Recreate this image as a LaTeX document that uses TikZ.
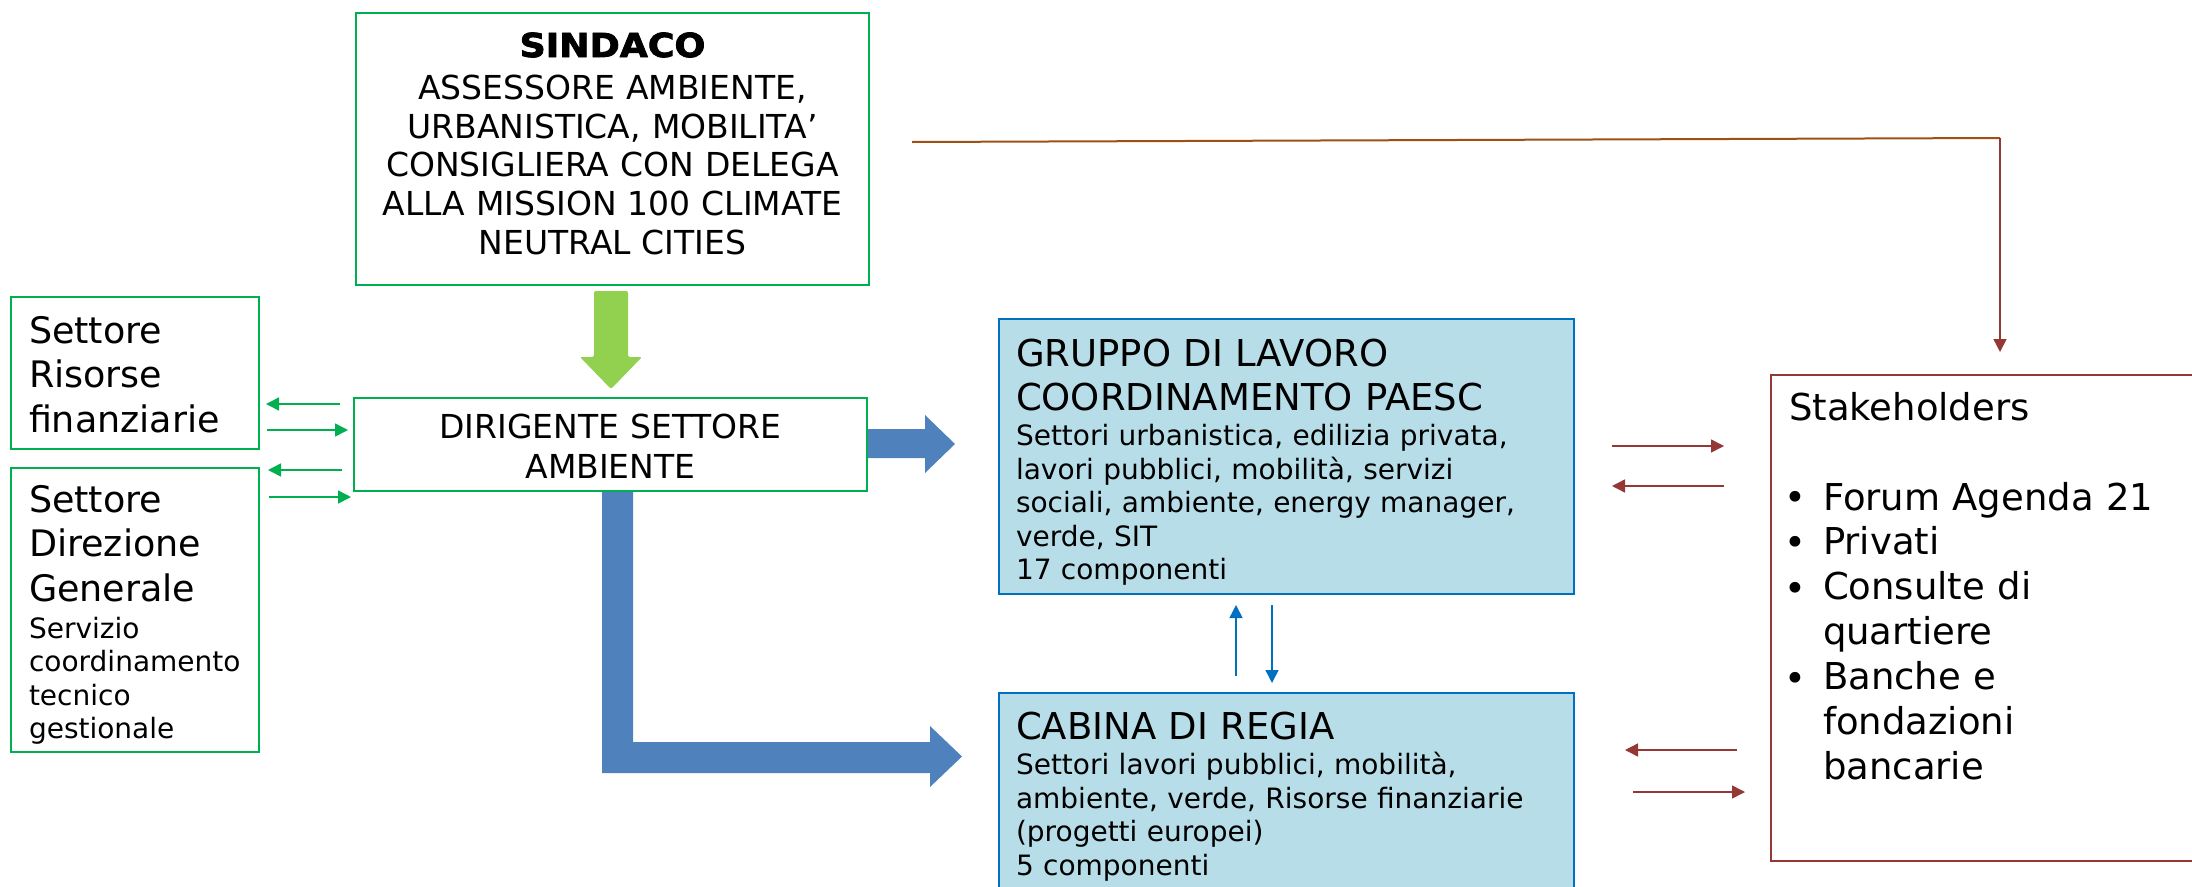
\documentclass[tikz,border=0pt]{standalone}
\usepackage{fontspec}
\setmainfont{DejaVu Sans}
\newfontfamily\heavyfont[FakeBold=2.5, FakeStretch=1.1]{DejaVu Sans Bold}
\usetikzlibrary{arrows.meta}
\definecolor{gbox}{RGB}{0,176,80}
\definecolor{garr}{RGB}{146,208,80}
\definecolor{barr}{RGB}{79,129,189}
\definecolor{bfill}{RGB}{183,222,232}
\definecolor{bline}{RGB}{0,112,192}
\definecolor{rline}{RGB}{149,55,53}
\definecolor{brline}{RGB}{158,80,20}
\tikzset{
  boxg/.style={draw=gbox, line width=1.8pt, fill=white, inner sep=0pt, outer sep=0pt},
  boxb/.style={draw=bline, line width=1.6pt, fill=bfill, inner sep=0pt, outer sep=0pt},
  boxr/.style={draw=rline, line width=1.6pt, fill=white, inner sep=0pt, outer sep=0pt},
  txtl/.style={inner sep=0pt, outer sep=0pt, anchor=base west, align=left},
  txtc/.style={inner sep=0pt, outer sep=0pt, anchor=base, align=center},
  tip/.style={-{Triangle[length=13pt,width=13pt]}},
  garrow/.style={draw=gbox, line width=1.5pt, tip},
  rarrow/.style={draw=rline, line width=1.5pt, tip},
  barrow/.style={draw=bline, line width=1.5pt, tip},
  big/.style={font=\fontsize{36.5}{44.5}\selectfont},
  med/.style={font=\fontsize{33}{38.7}\selectfont},
  small/.style={font=\fontsize{28}{33.5}\selectfont},
}
\begin{document}
\begin{tikzpicture}[x=1pt,y=-1pt]
\useasboundingbox (0,0) rectangle (2192,886);

% block arrows
\path[fill=garr, rounded corners=2pt] (594,291) -- (628,291) -- (628,357) -- (642,357) -- (611,389) -- (580,357) -- (594,357) -- cycle;
\path[fill=barr] (860,429) -- (925,429) -- (925,415) -- (955,444) -- (925,473) -- (925,458) -- (860,458) -- cycle;
\path[fill=barr] (602,485) -- (633,485) -- (633,742) -- (930,742) -- (930,726) -- (962,756.5) -- (930,787) -- (930,773) -- (602,773) -- cycle;

% boxes
\node[boxg, minimum width=513pt, minimum height=272pt] (sind) at (612.5,149) {};
\node[boxg, minimum width=513pt, minimum height=93pt] (dir) at (610.5,444.5) {};
\node[boxg, minimum width=248pt, minimum height=152pt] (sris) at (135,373) {};
\node[boxg, minimum width=248pt, minimum height=284pt] (sdir) at (135,610) {};
\node[boxb, minimum width=575pt, minimum height=275pt] (grp) at (1286.5,456.5) {};
\node[boxb, minimum width=575pt, minimum height=212pt] (cab) at (1286.5,799) {};
\node[boxr, minimum width=440pt, minimum height=486pt] (stk) at (1991,618) {};

% texts
\node[txtc, font=\fontsize{33}{40}\heavyfont] (sindT) at (612.5,57) {SINDACO};
\node[txtc, med, text width=505pt] (sindB) at (612.5,99.3) {ASSESSORE AMBIENTE,\\URBANISTICA, MOBILITA’\\CONSIGLIERA CON DELEGA\\ALLA MISSION 100 CLIMATE\\NEUTRAL CITIES};
\node[txtc, font=\fontsize{33}{40}\selectfont, text width=505pt] (dirT) at (610.5,438) {DIRIGENTE SETTORE\\AMBIENTE};
\node[txtl, big, text width=225pt] (srisT) at (29,343) {Settore\\Risorse\\finanziarie};
\node[txtl, big, text width=225pt] (sdirT) at (29,512) {Settore\\Direzione\\Generale};
\node[txtl, small, text width=228pt] (sdirB) at (29,638) {Servizio\\coordinamento\\tecnico\\gestionale};
\node[txtl, font=\fontsize{37}{44.1}\selectfont, text width=550pt] (grpT) at (1016,366.5) {GRUPPO DI LAVORO\\COORDINAMENTO PAESC};
\node[txtl, small, text width=550pt] (grpB) at (1016,445.7) {Settori urbanistica, edilizia privata,\\lavori pubblici, mobilità, servizi\\sociali, ambiente, energy manager,\\verde, SIT\\17 componenti};
\node[txtl, font=\fontsize{37}{44.1}\selectfont, text width=550pt] (cabT) at (1016,739) {CABINA DI REGIA};
\node[txtl, small, text width=550pt] (cabB) at (1016,774.6) {Settori lavori pubblici, mobilità,\\ambiente, verde, Risorse finanziarie\\(progetti europei)\\5 componenti};
\node[txtl, font=\fontsize{37}{44.9}\selectfont] (stkT) at (1789,420) {Stakeholders};
\node[txtl, font=\fontsize{37}{44.9}\selectfont] (b1) at (1784,510) {•};
\node[txtl, font=\fontsize{37}{44.9}\selectfont] (b2) at (1784,555) {•};
\node[txtl, font=\fontsize{37}{44.9}\selectfont] (b3) at (1784,601) {•};
\node[txtl, font=\fontsize{37}{44.9}\selectfont] (b4) at (1784,691) {•};
\node[txtl, font=\fontsize{37}{44.9}\selectfont, text width=360pt] (stkB) at (1823,510) {Forum Agenda 21\\Privati\\Consulte di\\quartiere\\Banche e\\fondazioni\\bancarie};

% thin arrows
\coordinate (g1a) at (340,404); \coordinate (g1b) at (266,404);
\coordinate (g2a) at (267,430); \coordinate (g2b) at (348,430);
\coordinate (g3a) at (342,470); \coordinate (g3b) at (268,470);
\coordinate (g4a) at (269,497); \coordinate (g4b) at (351,497);
\draw[garrow] (g1a) -- (g1b);
\draw[garrow] (g2a) -- (g2b);
\draw[garrow] (g3a) -- (g3b);
\draw[garrow] (g4a) -- (g4b);

\coordinate (r1a) at (1612,446); \coordinate (r1b) at (1724,446);
\coordinate (r2a) at (1724,486); \coordinate (r2b) at (1612,486);
\coordinate (r3a) at (1737,750); \coordinate (r3b) at (1625,750);
\coordinate (r4a) at (1633,792); \coordinate (r4b) at (1745,792);
\draw[rarrow] (r1a) -- (r1b);
\draw[rarrow] (r2a) -- (r2b);
\draw[rarrow] (r3a) -- (r3b);
\draw[rarrow] (r4a) -- (r4b);

\coordinate (u1a) at (1236,676); \coordinate (u1b) at (1236,605);
\coordinate (d1a) at (1272,605); \coordinate (d1b) at (1272,683);
\draw[barrow] (u1a) -- (u1b);
\draw[barrow] (d1a) -- (d1b);

\coordinate (ts) at (912,142); \coordinate (tc) at (2000,138); \coordinate (te) at (2000,352);
\draw[draw=brline, line width=2pt] (ts) -- (tc);
\draw[rarrow] (tc) -- (te);
\end{tikzpicture}
\end{document}
